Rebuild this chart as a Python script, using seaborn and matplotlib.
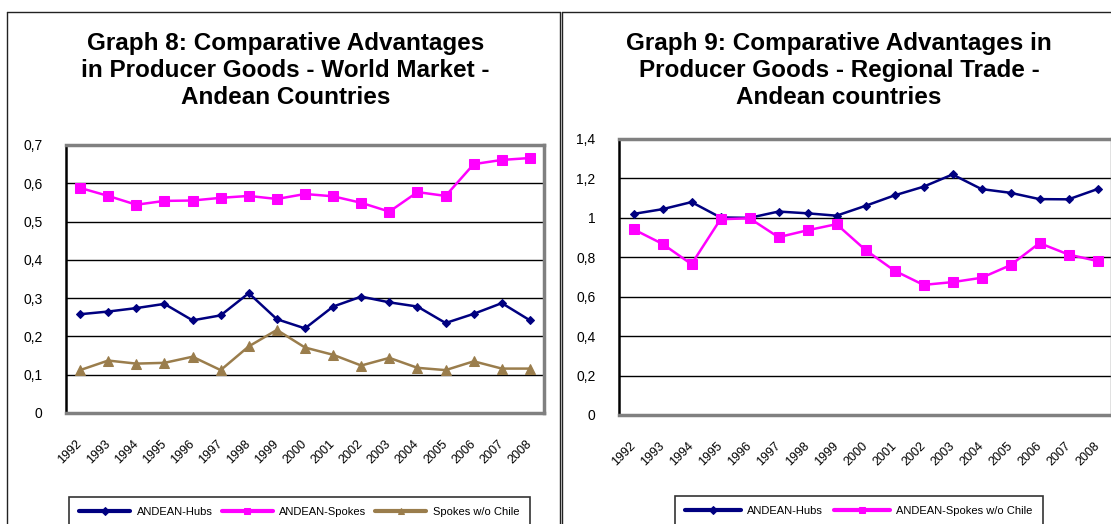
import numpy as np
import pandas as pd
import matplotlib
matplotlib.use("Agg")
import matplotlib.pyplot as plt
from matplotlib.lines import Line2D
from matplotlib.ticker import FixedLocator, FuncFormatter
from matplotlib.transforms import ScaledTranslation
import seaborn as sns

# ---- data -------------------------------------------------------------
years = [str(y) for y in range(1992, 2009)]

# Graph 8: world market
world_hubs = [0.258, 0.265, 0.274, 0.285, 0.242, 0.255, 0.313, 0.245, 0.221,
              0.278, 0.304, 0.289, 0.278, 0.235, 0.259, 0.287, 0.242]
world_spokes = [0.588, 0.567, 0.544, 0.554, 0.555, 0.562, 0.567, 0.559, 0.572,
                0.566, 0.549, 0.526, 0.577, 0.567, 0.650, 0.661, 0.666]
world_spokes_no_chile = [0.112, 0.137, 0.129, 0.131, 0.147, 0.112, 0.174, 0.217,
                         0.171, 0.152, 0.124, 0.144, 0.118, 0.112, 0.135, 0.116, 0.116]

# Graph 9: regional trade
reg_hubs = [1.020, 1.044, 1.080, 1.002, 1.000, 1.032, 1.023, 1.011, 1.061,
            1.114, 1.158, 1.220, 1.146, 1.127, 1.095, 1.094, 1.146]
reg_spokes_no_chile = [0.942, 0.868, 0.765, 0.993, 0.998, 0.902, 0.937, 0.968,
                       0.837, 0.732, 0.660, 0.674, 0.696, 0.760, 0.872, 0.814, 0.781]

title_left = "Graph 8: Comparative Advantages\nin Producer Goods - World Market -\nAndean Countries"
title_right = "Graph 9: Comparative Advantages in\nProducer Goods - Regional Trade -\nAndean countries"

NAVY = "#000080"
MAGENTA = "#FF00FF"
BROWN = "#9A7D4C"

# ---- style ------------------------------------------------------------
sns.set_style("white")
plt.rcParams["font.family"] = ["Liberation Sans", "DejaVu Sans"]
plt.rcParams["text.color"] = "black"
plt.rcParams["xtick.color"] = "black"
plt.rcParams["ytick.color"] = "black"

W, H = 1111, 524
fig = plt.figure(figsize=(W / 100, H / 100), dpi=100)


def fx(px):
    return px / W


def fy(py):
    return 1 - py / H


def comma(v, _pos=None):
    return f"{v:g}".replace(".", ",")


def style_axes(ax, ymax, ystep):
    n = len(years)
    ax.set_xlim(-0.5, n - 0.5)
    ax.set_ylim(0, ymax)
    yt = np.round(np.arange(0, ymax + ystep / 2, ystep), 3)
    ax.set_yticks(yt)
    ax.yaxis.set_major_formatter(FuncFormatter(comma))
    ax.grid(False)
    for v in yt[1:-1]:
        ax.axhline(v, color="black", lw=1.0, zorder=1)
    ax.set_xticks(np.arange(n))
    ax.set_xticklabels(years, rotation=45, ha="right", va="center",
                       rotation_mode="anchor", fontsize=9, color="black")
    shift = ScaledTranslation(-7 / 100, 0, fig.dpi_scale_trans)
    for lab in ax.get_xticklabels():
        lab.set_transform(lab.get_transform() + shift)
    ax.xaxis.set_minor_locator(FixedLocator(np.arange(-0.5, n, 1.0)))
    ax.tick_params(axis="x", which="major", length=0, pad=21)
    ax.tick_params(axis="x", which="minor", length=5, width=1.0,
                   direction="out", color="black")
    ax.tick_params(axis="y", length=4, width=1.5, direction="out",
                   color="black", labelcolor="black", labelsize=10, pad=13)
    for side in ("top", "right", "bottom"):
        ax.spines[side].set_color("#808080")
        ax.spines[side].set_linewidth(2.5)
        ax.spines[side].set_visible(True)
    ax.spines["left"].set_color("black")
    ax.spines["left"].set_linewidth(1.8)
    ax.set_xlabel("")
    ax.set_ylabel("")


def draw_series(ax, values, color, marker, ms, label):
    sns.lineplot(x=np.arange(len(years)), y=values, ax=ax, color=color,
                 marker=marker, markersize=ms, markeredgecolor=color,
                 lw=1.8, label=label, zorder=3)


def add_legend(ax, x_px, y_px, handlelength=4.6, columnspacing=0.8):
    leg = ax.legend(loc="upper left", bbox_to_anchor=(fx(x_px), fy(y_px)),
                    bbox_transform=fig.transFigure, ncol=3, fontsize=8,
                    frameon=True, fancybox=False, edgecolor="black",
                    handlelength=handlelength, handletextpad=0.6,
                    columnspacing=columnspacing, borderpad=0.9, borderaxespad=0)
    leg.get_frame().set_linewidth(1.2)
    for t in leg.get_texts():
        t.set_color("black")
    for h in leg.legend_handles:
        h.set_linewidth(3.0)
        h.set_markersize(4)
    return leg


# ---- left panel -------------------------------------------------------
axL = fig.add_axes([fx(66), fy(413), fx(544 - 66), (413 - 145) / H])
draw_series(axL, world_hubs, NAVY, "D", 4.5, "ANDEAN-Hubs")
draw_series(axL, world_spokes, MAGENTA, "s", 6.5, "ANDEAN-Spokes")
draw_series(axL, world_spokes_no_chile, BROWN, "^", 7, "Spokes w/o Chile")
style_axes(axL, 0.7, 0.1)
add_legend(axL, 69, 497)

# ---- right panel ------------------------------------------------------
axR = fig.add_axes([fx(619), fy(415), fx(1112 - 619), (415 - 139) / H])
draw_series(axR, reg_hubs, NAVY, "D", 4.5, "ANDEAN-Hubs")
draw_series(axR, reg_spokes_no_chile, MAGENTA, "s", 6.5, "ANDEAN-Spokes w/o Chile")
style_axes(axR, 1.4, 0.2)
add_legend(axR, 675, 496, handlelength=5.0, columnspacing=1.0)

# ---- titles -----------------------------------------------------------
title_kw = dict(ha="center", va="top", fontsize=17.5, fontweight="bold",
                linespacing=1.22, color="black")
fig.text(fx(285.5), fy(32), title_left, **title_kw)
fig.text(fx(839), fy(32), title_right, **title_kw)

# ---- panel frames -----------------------------------------------------
frame_kw = dict(color="#222222", lw=1.0, transform=fig.transFigure)
fig.add_artist(Line2D([fx(7), fx(560)], [fy(12), fy(12)], **frame_kw))
fig.add_artist(Line2D([fx(7), fx(7)], [fy(12), 0], **frame_kw))
fig.add_artist(Line2D([fx(560), fx(560)], [fy(12), 0], **frame_kw))
fig.add_artist(Line2D([fx(562), 1], [fy(12), fy(12)], **frame_kw))
fig.add_artist(Line2D([fx(562), fx(562)], [fy(12), 0], **frame_kw))

fig.savefig("out.png", dpi=100, facecolor="white")
